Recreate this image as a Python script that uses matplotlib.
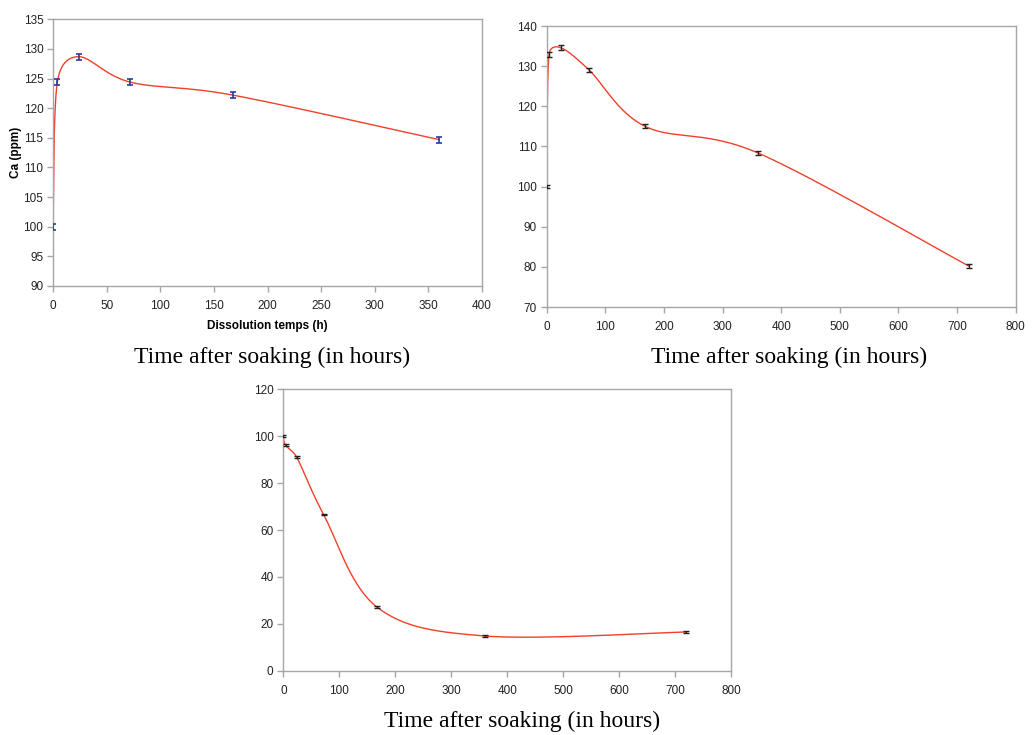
"""
Ca release curves - three Excel-style smoothed line panels
"""

import numpy as np
import matplotlib
matplotlib.use("Agg")
import matplotlib.pyplot as plt

# panel 1 (with axis titles)
hours_a = [0, 4, 24, 72, 168, 360]
ca_a = [100.0, 124.4, 128.7, 124.4, 122.2, 114.7]
err_a = [0.5, 0.5, 0.5, 0.5, 0.5, 0.5]

# panel 2
hours_b = [0, 4, 24, 72, 168, 360, 720]
ca_b = [100.0, 132.9, 134.6, 129.1, 115.0, 108.4, 80.2]
err_b = [0.3, 0.6, 0.6, 0.5, 0.5, 0.5, 0.4]

# panel 3
hours_c = [0, 4, 24, 72, 168, 360, 720]
ca_c = [100.0, 96.2, 91.0, 66.6, 27.0, 14.8, 16.5]
err_c = [0.5, 0.5, 0.5, 0.4, 0.4, 0.3, 0.3]

caption = "Time after soaking (in hours)"

plt.rcParams["font.family"] = ["Liberation Sans", "DejaVu Sans"]

LINE_RED = "#f0402a"
AXIS_GRAY = "#a6a6a6"


def smooth_curve(ax, xs, ys, steps=60):
    """Excel-like smoothed line: Bezier with clamped handles, in screen space."""
    pts = ax.transData.transform(np.column_stack([xs, ys]))
    n = len(pts)
    out = []
    for i in range(n - 1):
        p0 = pts[max(i - 1, 0)]
        p1 = pts[i]
        p2 = pts[i + 1]
        p3 = pts[min(i + 2, n - 1)]
        d12 = np.hypot(*(p2 - p1))
        d02 = np.hypot(*(p2 - p0))
        d13 = np.hypot(*(p3 - p1))
        f = min(1 / 6, 0.5 * d12 / d02) if d02 > 0 else 0
        g = min(1 / 6, 0.5 * d12 / d13) if d13 > 0 else 0
        c1 = p1 + (p2 - p0) * f
        c2 = p2 - (p3 - p1) * g
        t = np.linspace(0, 1, steps)[:, None]
        seg = ((1 - t) ** 3) * p1 + 3 * ((1 - t) ** 2) * t * c1 \
            + 3 * (1 - t) * t ** 2 * c2 + t ** 3 * p2
        out.append(seg)
    curve = ax.transData.inverted().transform(np.vstack(out))
    ax.plot(curve[:, 0], curve[:, 1], color=LINE_RED, linewidth=1.0, zorder=2)


def style_axes(ax, xlim, xstep, ylim, ystep):
    ax.set_xlim(*xlim)
    ax.set_ylim(*ylim)
    ax.set_xticks(np.arange(xlim[0], xlim[1] + 1, xstep))
    ax.set_yticks(np.arange(ylim[0], ylim[1] + 1, ystep))
    for sp in ax.spines.values():
        sp.set_color(AXIS_GRAY)
        sp.set_linewidth(1.0)
    ax.tick_params(direction="out", length=4, width=1.0, color=AXIS_GRAY,
                   labelsize=8.5, labelcolor="#222222")
    ax.tick_params(axis="x", pad=6)
    ax.tick_params(axis="y", pad=3)


fig = plt.figure(figsize=(10.34, 7.35), dpi=100)
fig.patch.set_facecolor("white")

# Panel 1
ax1 = fig.add_axes([0.0513, 0.6109, 0.4149, 0.3628])
style_axes(ax1, (0, 400), 50, (90, 135), 5)
smooth_curve(ax1, hours_a, ca_a)
ax1.errorbar(hours_a, ca_a, yerr=err_a, fmt="none", ecolor="#2a3c9c",
             elinewidth=1.2, capsize=2.5, capthick=1.2, zorder=3)
ax1.set_xlabel("Dissolution temps (h)", fontsize=8.5, fontweight="bold", labelpad=6)
ax1.set_ylabel("Ca (ppm)", fontsize=8.5, fontweight="bold", labelpad=1)

# Panel 2
ax2 = fig.add_axes([0.5287, 0.5823, 0.4536, 0.3823])
style_axes(ax2, (0, 800), 100, (70, 140), 10)
smooth_curve(ax2, hours_b, ca_b)
ax2.errorbar(hours_b, ca_b, yerr=err_b, fmt="none", ecolor="#222222",
             elinewidth=1.0, capsize=2.5, capthick=1.0, zorder=3)

# Panel 3
ax3 = fig.add_axes([0.274, 0.0875, 0.433, 0.3828])
style_axes(ax3, (0, 800), 100, (0, 120), 20)
smooth_curve(ax3, hours_c, ca_c)
ax3.errorbar(hours_c, ca_c, yerr=err_c, fmt="none", ecolor="#222222",
             elinewidth=1.0, capsize=2.5, capthick=1.0, zorder=3)

# serif captions under each panel
cap_kw = dict(ha="center", va="center", fontsize=17,
              family=["Liberation Serif", "DejaVu Serif"], color="black")
fig.text(272 / 1034, 1 - 357 / 735, caption, **cap_kw)
fig.text(789 / 1034, 1 - 357 / 735, caption, **cap_kw)
fig.text(522 / 1034, 1 - 721 / 735, caption, **cap_kw)

plt.savefig("out.png", dpi=100, facecolor=fig.get_facecolor())
plt.close()
